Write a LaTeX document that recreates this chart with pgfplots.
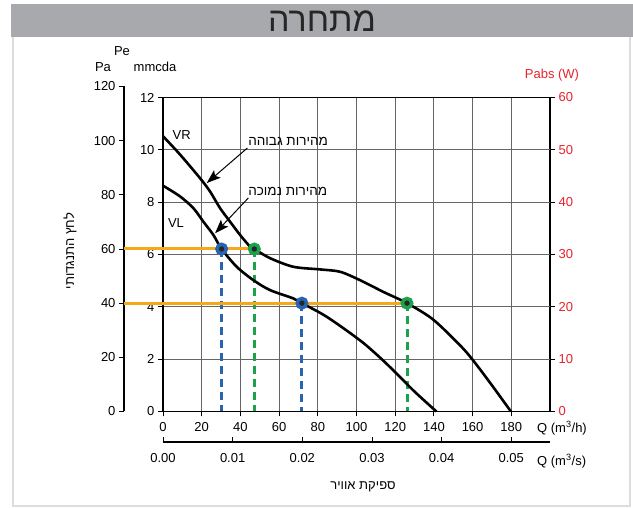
\documentclass[border=0pt]{standalone}
\usepackage{pgfplots}
\pgfplotsset{compat=1.18}
\usetikzlibrary{arrows.meta}
\usepackage{fontspec}
\setmainfont{Liberation Sans}
\newfontfamily\heb[Script=Hebrew]{Liberation Sans}
\TeXXeTstate=1
\definecolor{titlegray}{HTML}{A7A9AC}
\definecolor{framegray}{HTML}{DDDDDD}
\definecolor{myred}{HTML}{E8232B}
\definecolor{myorange}{HTML}{F6A81B}
\definecolor{myblue}{HTML}{2A64B0}
\definecolor{mygreen}{HTML}{1CA24A}
\newcommand{\lab}{\fontsize{13}{14}\selectfont}
\begin{document}
\begin{tikzpicture}[x=1pt,y=1pt]
\useasboundingbox (0,0) rectangle (633,508);
\fill[white] (0,0) rectangle (633,508);
\fill[titlegray] (11,471) rectangle (633,504);
\draw[framegray, line width=2pt] (13,471) -- (13,1.5) -- (629.5,1.5) -- (629.5,471);
\node[font=\heb\fontsize{34}{36}\selectfont, text=black!85] at (322,487) {\beginR מתחרה\endR};

% Pa axis
\begin{axis}[
  at={(124pt,96.5pt)}, anchor=south west, scale only axis,
  width=10pt, height=325pt,
  xmin=0, xmax=1, ymin=0, ymax=120,
  axis x line=none, axis y line*=left,
  ytick={0,20,...,120}, yticklabels={0,20,40,60,80,100,120},
  tick align=outside, major tick length=5pt,
  tick style={black, line width=0.9pt},
  axis line style={black, line width=1.2pt},
  tick label style={font=\lab},
]
\end{axis}

% m3/s axis
\begin{axis}[
  at={(163pt,66pt)}, anchor=south west, scale only axis,
  width=387pt, height=10pt,
  xmin=0, xmax=0.0555556, ymin=0, ymax=1,
  axis y line=none, axis x line*=bottom,
  scaled x ticks=false,
  xtick={0,0.01,0.02,0.03,0.04,0.05},
  xticklabels={0.00,0.01,0.02,0.03,0.04,0.05},
  tick align=inside, major tick length=5pt,
  tick style={black, line width=0.9pt},
  axis line style={black, line width=1.2pt},
  tick label style={font=\lab},
  xticklabel style={yshift=-8pt},
]
\end{axis}

% right Pabs axis
\begin{axis}[
  at={(163pt,96.5pt)}, anchor=south west, scale only axis,
  width=387pt, height=314pt,
  xmin=0, xmax=200, ymin=0, ymax=60,
  axis x line=none, axis y line*=right,
  ytick={0,10,...,60}, yticklabels={0,10,20,30,40,50,60},
  tick align=outside, major tick length=5pt,
  tick style={black, line width=0.9pt},
  axis line style={black, line width=1.2pt},
  tick label style={font=\lab, text=myred},
]
\end{axis}

% main axis
\begin{axis}[
  at={(163pt,96.5pt)}, anchor=south west, scale only axis,
  width=387pt, height=314pt,
  xmin=0, xmax=200, ymin=0, ymax=12,
  axis x line*=bottom, axis y line*=left,
  xtick={0,20,...,180}, xticklabels={0,20,40,60,80,100,120,140,160,180},
  ytick={0,2,...,12}, yticklabels={0,2,4,6,8,10,12},
  grid=major, grid style={black!60, line width=0.9pt},
  tick align=outside, major tick length=5pt,
  tick style={black, line width=0.9pt},
  axis line style={black, line width=1.2pt},
  tick label style={font=\lab},
  xticklabel style={yshift=-2pt},
  clip=false,
]
\draw[black, line width=1pt] (axis cs:0,12) -- (axis cs:200,12);
% dashed verticals
\addplot[myblue, line width=3pt, dash pattern=on 8pt off 5pt] coordinates {(30.3,6.21) (30.3,0)};
\addplot[myblue, line width=3pt, dash pattern=on 8pt off 5pt] coordinates {(71.8,4.14) (71.8,0)};
\addplot[mygreen, line width=3pt, dash pattern=on 8pt off 5pt] coordinates {(47.2,6.21) (47.2,0)};
\addplot[mygreen, line width=3pt, dash pattern=on 8pt off 5pt] coordinates {(126.1,4.14) (126.1,0)};
% orange horizontals
\addplot[myorange, line width=3pt] coordinates {(-20.2,6.21) (47.2,6.21)};
\addplot[myorange, line width=3pt] coordinates {(-20.2,4.14) (126.1,4.14)};
% VR curve
\addplot[black, line width=2.6pt, smooth, tension=0.5] coordinates {
(0,10.52) (8.8,9.82) (19.1,8.92) (24.3,8.41) (29.5,7.77) (34.6,7.26) (39.8,6.75)
(45.0,6.30) (47.2,6.21) (55.3,5.86) (67.4,5.53) (81.1,5.43) (91.5,5.34) (101.8,5.02)
(113.9,4.57) (126.1,4.14) (139.5,3.52) (153.5,2.53) (160.2,1.96) (170,1.0) (179.8,0)};
% VL curve
\addplot[black, line width=2.6pt, smooth, tension=0.5] coordinates {
(0,8.63) (8.8,8.22) (15.7,7.77) (20.8,7.26) (26,6.75) (30.3,6.21) (38.1,5.53)
(46.7,5.02) (55.3,4.64) (67.4,4.32) (71.8,4.14) (84.6,3.62) (101.8,2.72) (112,2.07)
(121,1.43) (130,0.76) (141.3,0)};
% dots
\addplot[only marks, mark=*, mark size=4.7pt, mark options={fill=black!85, draw=myblue, line width=3.5pt}] coordinates {(30.3,6.21) (71.8,4.14)};
\addplot[only marks, mark=*, mark size=4.7pt, mark options={fill=black!85, draw=mygreen, line width=3.5pt}] coordinates {(47.2,6.21) (126.1,4.14)};
% annotations
\draw[-{Stealth[length=14pt,width=10pt,inset=3pt]}, line width=1pt] (axis cs:43.6,10.07) -- (axis cs:22.6,8.73);
\draw[-{Stealth[length=14pt,width=10pt,inset=3pt]}, line width=1pt] (axis cs:44.1,8.16) -- (axis cs:26.9,6.81);
\node[font=\heb\fontsize{13.5}{14}\selectfont, anchor=west, inner sep=0pt] at (axis cs:44,10.31) {\beginR מהירות גבוהה\endR};
\node[font=\heb\fontsize{13.5}{14}\selectfont, anchor=west, inner sep=0pt] at (axis cs:44,8.40) {\beginR מהירות נמוכה\endR};
\node[font=\lab] at (axis cs:9.7,10.58) {VR};
\node[font=\lab] at (axis cs:6.7,7.19) {VL};
\end{axis}

% outer labels
\node[font=\lab] at (122,457) {Pe};
\node[font=\lab] at (103,441) {Pa};
\node[font=\lab] at (155,441) {mmcda};
\node[font=\lab, text=myred] at (552,433) {Pabs (W)};
\node[font=\lab, anchor=west, inner sep=0pt] at (537,80) {Q (m\textsuperscript{3}/h)};
\node[font=\lab, anchor=west, inner sep=0pt] at (537,47) {Q (m\textsuperscript{3}/s)};
\node[font=\heb\lab, rotate=90] at (70,257) {\beginR לחץ התנגדותי\endR};
\node[font=\heb\lab] at (363,21) {\beginR ספיקת אוויר\endR};
\end{tikzpicture}
\end{document}
